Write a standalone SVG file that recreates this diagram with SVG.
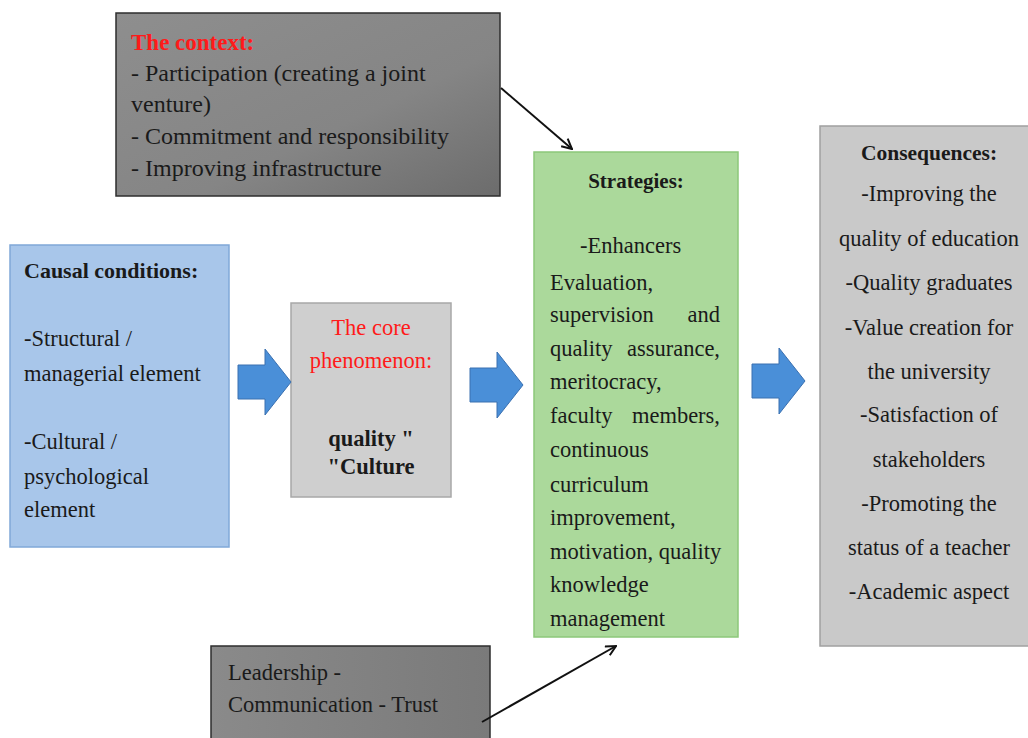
<svg xmlns="http://www.w3.org/2000/svg" width="1028" height="738" viewBox="0 0 1028 738" font-family="'Liberation Serif', 'DejaVu Serif', serif">
  <defs>
    <linearGradient id="gDark" x1="0" y1="0" x2="1" y2="1">
      <stop offset="0" stop-color="#8e8e8e"/>
      <stop offset="0.6" stop-color="#858585"/>
      <stop offset="1" stop-color="#6c6c6c"/>
    </linearGradient>
    <linearGradient id="gLeader" x1="0" y1="0" x2="1" y2="0">
      <stop offset="0" stop-color="#8a8a8a"/>
      <stop offset="1" stop-color="#7a7a7a"/>
    </linearGradient>
    <marker id="open" viewBox="0 0 12 12" refX="11" refY="6" markerWidth="12" markerHeight="12" markerUnits="userSpaceOnUse" orient="auto">
      <path d="M1,1 L11,6 L1,11" fill="none" stroke="#111" stroke-width="2"/>
    </marker>
    <path id="blockArrow" d="M0,16 L27,16 L27,0 L53,33 L27,66 L27,50 L0,50 Z"/>
  </defs>
  <style>
    text { fill: #1a1a1a; }
    .box { stroke-width: 1.5; }
    .b { font-weight: bold; }
    .red { fill: #ff1a1a; }
    .mid { text-anchor: middle; }
    .fat { fill: #4a8fd8; stroke: #3a70b0; stroke-width: 1; }
    .link { stroke: #111; stroke-width: 2; fill: none; }
  </style>

  <rect width="1028" height="738" fill="#ffffff"/>

  <!-- context -->
  <g id="context">
    <rect class="box" x="116" y="13" width="384" height="183" fill="url(#gDark)" stroke="#2e2e2e"/>
    <g font-size="24">
      <text x="131" y="50" class="b red" font-size="23">The context:</text>
      <text x="131" y="81">- Participation (creating a joint</text>
      <text x="131" y="112">venture)</text>
      <text x="131" y="144">- Commitment and responsibility</text>
      <text x="131" y="176">- Improving infrastructure</text>
    </g>
  </g>

  <!-- causal conditions -->
  <g id="causal">
    <rect class="box" x="10" y="245" width="219" height="302" fill="#a8c6ea" stroke="#80a8d8"/>
    <g font-size="22.5">
      <text x="24" y="278" class="b" font-size="22">Causal conditions:</text>
      <text x="24" y="346">-Structural /</text>
      <text x="24" y="381">managerial element</text>
      <text x="24" y="449">-Cultural /</text>
      <text x="24" y="484">psychological</text>
      <text x="24" y="517">element</text>
    </g>
  </g>

  <!-- core phenomenon -->
  <g id="core">
    <rect class="box" x="291" y="303" width="160" height="194" fill="#cfcfcf" stroke="#a8a8a8"/>
    <g font-size="22.5">
      <text x="371" y="335" class="red mid">The core</text>
      <text x="371" y="368" class="red mid">phenomenon:</text>
      <text x="371" y="446" class="b mid">quality "</text>
      <text x="371" y="474" class="b mid">"Culture</text>
    </g>
  </g>

  <!-- strategies -->
  <g id="strategies">
    <rect class="box" x="534" y="152" width="204" height="485" fill="#abd99b" stroke="#8cc77a"/>
    <g font-size="22.5">
      <text x="636" y="188" class="b mid" font-size="21">Strategies:</text>
      <text x="580" y="253">-Enhancers</text>
      <text x="550" y="290">Evaluation,</text>
      <text x="550" y="322">supervision</text>
      <text x="720" y="322" text-anchor="end">and</text>
      <text x="550" y="356">quality</text>
      <text x="720" y="356" text-anchor="end">assurance,</text>
      <text x="550" y="389">meritocracy,</text>
      <text x="550" y="423">faculty</text>
      <text x="720" y="423" text-anchor="end">members,</text>
      <text x="550" y="457">continuous</text>
      <text x="550" y="492">curriculum</text>
      <text x="550" y="525">improvement,</text>
      <text x="550" y="559">motivation, quality</text>
      <text x="550" y="592">knowledge</text>
      <text x="550" y="626">management</text>
    </g>
  </g>

  <!-- consequences -->
  <g id="consequences">
    <rect class="box" x="820" y="126" width="212" height="520" fill="#c9c9c9" stroke="#a0a0a0"/>
    <g font-size="22.5">
      <text x="929" y="160" class="b mid" font-size="21.5">Consequences:</text>
      <text x="929" y="201" class="mid">-Improving the</text>
      <text x="929" y="246" class="mid">quality of education</text>
      <text x="929" y="290" class="mid">-Quality graduates</text>
      <text x="929" y="335" class="mid">-Value creation for</text>
      <text x="929" y="379" class="mid">the university</text>
      <text x="929" y="422" class="mid">-Satisfaction of</text>
      <text x="929" y="467" class="mid">stakeholders</text>
      <text x="929" y="511" class="mid">-Promoting the</text>
      <text x="929" y="555" class="mid">status of a teacher</text>
      <text x="929" y="599" class="mid">-Academic aspect</text>
    </g>
  </g>

  <!-- intervening conditions -->
  <g id="intervening">
    <rect class="box" x="211" y="646" width="279" height="100" fill="url(#gLeader)" stroke="#2e2e2e"/>
    <g font-size="22.5">
      <text x="228" y="680">Leadership -</text>
      <text x="228" y="712">Communication - Trust</text>
    </g>
  </g>

  <!-- connectors -->
  <g id="connectors">
    <use href="#blockArrow" class="fat" x="238" y="349"/>
    <use href="#blockArrow" class="fat" x="470" y="352"/>
    <use href="#blockArrow" class="fat" x="752" y="348"/>
    <line class="link" x1="501" y1="88" x2="572" y2="149" marker-end="url(#open)"/>
    <line class="link" x1="482" y1="722" x2="616" y2="646" marker-end="url(#open)"/>
  </g>
</svg>
